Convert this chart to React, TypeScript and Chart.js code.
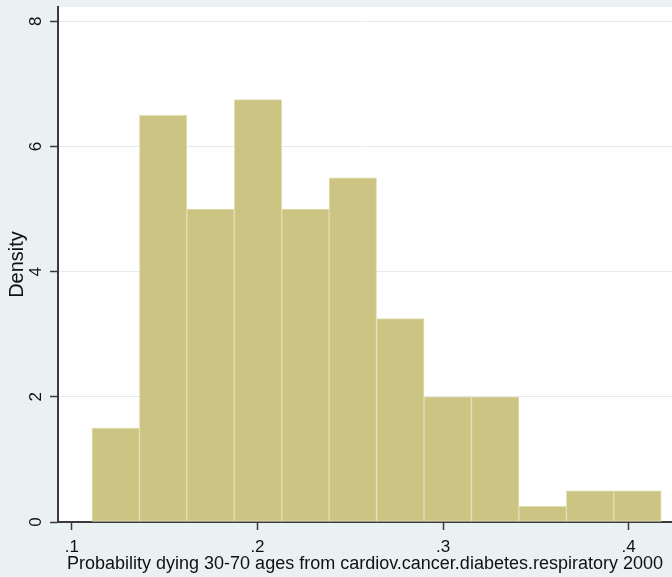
import React, { useEffect, useRef } from 'react';
import { Chart, registerables } from 'chart.js';

Chart.register(...registerables);

// Histogram bin edges (x values) and densities
const binEdges = [0.1108, 0.1364, 0.1619, 0.1875, 0.2131, 0.2386, 0.2642, 0.2898, 0.3153, 0.3409, 0.3665, 0.3920, 0.4176];
const densities = [1.5, 6.5, 5.0, 6.75, 5.0, 5.5, 3.25, 2.0, 2.0, 0.25, 0.5, 0.5];

const xTickValues = [0.1, 0.2, 0.3, 0.4];
const xTickLabels = ['.1', '.2', '.3', '.4'];
const yTickValues = [0, 2, 4, 6, 8];
const yTickLabels = ['0', '2', '4', '6', '8'];

const xTitle = 'Probability dying 30-70 ages from cardiov.cancer.diabetes.respiratory 2000';
const yTitle = 'Density';

const BG = '#e9f1f3';
const BAR = '#cbc483';
const BAR_EDGE = '#e2deb2';
const AXIS = '#3a3a3a';
const TEXT = '#111111';

export default function App() {
  const ref = useRef<HTMLCanvasElement | null>(null);

  useEffect(() => {
    const canvas = ref.current;
    if (!canvas) return;
    const points = densities.map((d, i) => ({ x: (binEdges[i] + binEdges[i + 1]) / 2, y: d }));

    const bgPlugin = {
      id: 'bgPlugin',
      beforeDraw(chart: any) {
        const { ctx, chartArea } = chart;
        ctx.save();
        ctx.fillStyle = BG;
        ctx.fillRect(0, 0, chart.width, chart.height);
        ctx.fillStyle = '#ffffff';
        ctx.fillRect(chartArea.left, chartArea.top, chartArea.right - chartArea.left, chartArea.bottom - chartArea.top);
        ctx.restore();
      },
    };

    const chart = new Chart(canvas, {
      type: 'bar',
      data: {
        datasets: [
          {
            data: points as any,
            backgroundColor: BAR,
            borderColor: BAR_EDGE,
            borderWidth: 1,
            borderSkipped: false,
            barPercentage: 1,
            categoryPercentage: 1,
          },
        ],
      },
      options: {
        responsive: false,
        animation: false,
        layout: { padding: { top: 7, left: 0, right: 0, bottom: 0 } },
        plugins: { legend: { display: false }, tooltip: { enabled: false } },
        scales: {
          x: {
            type: 'linear',
            position: 'bottom',
            offset: false,
            min: 0.0925,
            max: 0.4234,
            afterBuildTicks: (scale: any) => {
              scale.ticks = xTickValues.map((v) => ({ value: v }));
            },
            afterFit: (scale: any) => {
              scale.height = 55;
              scale.paddingLeft = 0;
              scale.paddingRight = 0;
            },
            grid: {
              offset: false,
              drawOnChartArea: false,
              drawTicks: true,
              tickLength: 8,
              tickColor: AXIS,
              tickWidth: 1.5,
            },
            border: { display: true, color: AXIS, width: 2 },
            ticks: {
              color: TEXT,
              padding: 7,
              maxRotation: 0,
              autoSkip: false,
              font: { family: "'Liberation Sans', Arial, sans-serif", size: 17 },
              callback: (v: any) => {
                const i = xTickValues.findIndex((t) => Math.abs(t - v) < 1e-9);
                return i >= 0 ? xTickLabels[i] : '';
              },
            },
            title: {
              display: true,
              text: xTitle,
              color: TEXT,
              padding: { top: 0, bottom: 2 },
              font: { family: "'Liberation Sans', Arial, sans-serif", size: 18 },
            },
          },
          y: {
            type: 'linear',
            min: 0,
            max: 8.23,
            afterBuildTicks: (scale: any) => {
              scale.ticks = yTickValues.map((v) => ({ value: v }));
            },
            afterFit: (scale: any) => {
              scale.width = 58;
              scale.paddingTop = 0;
              scale.paddingBottom = 0;
            },
            grid: {
              drawOnChartArea: true,
              color: (ctx: any) => (ctx.tick && ctx.tick.value === 0 ? 'rgba(0,0,0,0)' : '#e3ebee'),
              lineWidth: 1,
              drawTicks: true,
              tickLength: 8,
              tickColor: AXIS,
              tickWidth: 1.5,
            },
            border: { display: true, color: AXIS, width: 2 },
            ticks: {
              color: TEXT,
              padding: 9,
              minRotation: 90,
              maxRotation: 90,
              crossAlign: 'center',
              autoSkip: false,
              font: { family: "'Liberation Sans', Arial, sans-serif", size: 17 },
              callback: (v: any) => {
                const i = yTickValues.findIndex((t) => Math.abs(t - v) < 1e-9);
                return i >= 0 ? yTickLabels[i] : '';
              },
            },
            title: {
              display: true,
              text: yTitle,
              color: TEXT,
              padding: { top: 5, bottom: 0 },
              font: { family: "'Liberation Sans', Arial, sans-serif", size: 20 },
            },
          },
        },
      },
      plugins: [bgPlugin],
    });
    return () => chart.destroy();
  }, []);

  return (
    <div style={{ position: 'fixed', left: 0, top: 0, width: 672, height: 577, background: BG, overflow: 'hidden' }}>
      <canvas ref={ref} width={672} height={577} style={{ display: 'block', width: 672, height: 577 }} />
    </div>
  );
}
